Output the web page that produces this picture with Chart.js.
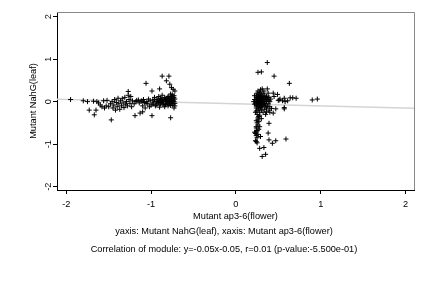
<!DOCTYPE html>
<html>
<head>
<meta charset="utf-8">
<script src="https://cdn.jsdelivr.net/npm/chart.js@4"></script>
<style>
  html, body { margin: 0; padding: 0; background: #fff; }
  canvas { display: block; }
</style>
</head>
<body>
<canvas id="chart" width="432" height="288"></canvas>
<script>
// ticks of both axes
const xTicks = [-2, -1, 0, 1, 2];
const yTicks = [-2, -1, 0, 1, 2];

// titles
const xTitle = 'Mutant ap3-6(flower)';
const yTitle = 'Mutant NahG(leaf)';
const subTitle = 'yaxis: Mutant NahG(leaf), xaxis: Mutant ap3-6(flower)';
const corrTitle = 'Correlation of module: y=-0.05x-0.05, r=0.01 (p-value:-5.500e-01)';

// genes with low flower value (x, y)
const leftPoints = [
  [-1.95,0.05],[-1.80,0.02],[-1.75,0.0],[-1.73,-0.2],[-1.68,0.01],[-1.67,-0.31],[-1.65,-0.2],[-1.64,0.0],
  [-1.62,-0.03],[-1.6,-0.08],[-1.58,-0.12],[-1.56,0.02],[-1.55,-0.15],[-1.53,-0.1],[-1.52,0.03],[-1.5,-0.12],
  [-1.48,-0.05],[-1.47,-0.43],[-1.46,0.0],[-1.45,-0.15],[-1.44,-0.08],[-1.43,0.05],[-1.42,-0.2],[-1.41,-0.02],
  [-1.4,-0.12],[-1.39,0.08],[-1.38,-0.05],[-1.37,-0.18],[-1.36,0.02],[-1.35,-0.1],[-1.34,0.07],[-1.33,-0.03],
  [-1.32,-0.14],[-1.31,0.1],[-1.3,-0.06],[-1.29,0.0],[-1.28,-0.1],[-1.27,0.24],[-1.27,0.15],[-1.26,0.05],
  [-1.25,-0.04],[-1.24,0.12],[-1.23,-0.12],[-1.22,0.02],[-1.2,-0.05],[-1.19,-0.33],[-1.18,0.0],[-1.17,0.03],
  [-1.15,0.04],[-1.14,-0.03],[-1.13,-0.27],[-1.12,0.01],[-1.11,0.02],[-1.1,-0.24],[-1.1,-0.1],[-1.09,0.05],
  [-1.08,-0.02],[-1.07,-0.15],[-1.06,0.43],[-1.06,-0.04],[-1.05,0.0],[-1.04,-0.05],[-1.03,0.06],[-1.02,-0.12],
  [-1.01,0.02],[-1.0,-0.08],[-0.99,-0.33],[-0.99,0.25],[-0.98,0.04],[-0.98,-0.06],[-0.97,-0.03],[-0.96,0.1],
  [-0.96,0.05],[-0.95,-0.1],[-0.94,0.0],[-0.94,-0.08],[-0.93,0.06],[-0.92,-0.05],[-0.92,0.04],[-0.91,0.12],
  [-0.91,-0.02],[-0.9,-0.13],[-0.9,0.02],[-0.9,0.3],[-0.89,0.08],[-0.89,-0.06],[-0.88,-0.02],[-0.88,0.06],
  [-0.87,0.15],[-0.87,0.6],[-0.87,0.0],[-0.86,-0.08],[-0.86,0.03],[-0.85,0.05],[-0.85,-0.04],[-0.84,0.1],
  [-0.84,-0.12],[-0.83,0.0],[-0.83,0.05],[-0.83,-0.07],[-0.82,0.49],[-0.82,0.07],[-0.82,0.0],[-0.81,-0.05],
  [-0.81,0.09],[-0.8,0.12],[-0.8,-0.1],[-0.8,0.02],[-0.79,0.6],[-0.79,0.03],[-0.79,-0.06],[-0.79,0.11],
  [-0.78,0.41],[-0.78,0.08],[-0.78,-0.03],[-0.78,0.0],[-0.77,0.18],[-0.77,-0.38],[-0.77,-0.09],[-0.77,0.06],
  [-0.76,0.33],[-0.76,0.05],[-0.76,0.12],[-0.76,-0.01],[-0.75,-0.08],[-0.75,0.04],[-0.75,0.16],[-0.74,0.29],
  [-0.74,0.1],[-0.74,-0.05],[-0.74,0.02],[-0.73,0.0],[-0.73,-0.15],[-0.73,0.09],[-0.73,0.14],[-0.72,0.06],
  [-0.72,0.25],[-0.72,-0.04],[-0.72,-0.1]
];

// genes with high flower value (x, y)
const rightPoints = [
  [0.24,0.0],[0.24,0.05],[0.24,-0.05],[0.24,0.1],[0.24,-0.1],[0.24,0.15],[0.24,-0.15],[0.24,-0.22],
  [0.25,0.2],[0.25,0.02],[0.25,-0.02],[0.25,0.08],[0.25,-0.08],[0.25,-0.3],[0.26,0.12],[0.26,-0.12],
  [0.26,0.04],[0.26,-0.04],[0.26,0.25],[0.26,-0.2],[0.27,0.0],[0.27,0.07],[0.27,-0.07],[0.27,0.17],
  [0.27,-0.17],[0.27,-0.35],[0.28,0.02],[0.28,-0.02],[0.28,0.1],[0.28,-0.1],[0.28,0.22],[0.28,-0.25],
  [0.29,0.05],[0.29,-0.05],[0.29,0.14],[0.29,-0.14],[0.29,0.28],[0.3,0.0],[0.3,0.08],[0.3,-0.08],
  [0.3,0.18],[0.3,-0.2],[0.3,-0.4],[0.31,0.03],[0.31,-0.03],[0.31,0.12],[0.31,-0.12],[0.31,0.3],
  [0.32,0.06],[0.32,-0.06],[0.32,0.2],[0.32,-0.25],[0.33,0.0],[0.33,0.1],[0.33,-0.1],[0.33,0.25],
  [0.34,0.04],[0.34,-0.04],[0.34,0.15],[0.34,-0.18],[0.35,0.08],[0.35,-0.08],[0.35,-0.3],[0.36,0.0],
  [0.36,0.12],[0.36,-0.15],[0.37,0.3],[0.37,0.05],[0.38,-0.05],[0.38,0.2],[0.39,-0.2],[0.39,0.1],
  [0.4,0.0],[0.4,-0.12],[0.37,0.92],[0.26,0.69],[0.3,0.7],[0.45,0.6],[0.63,0.43],[0.44,0.2],
  [0.49,0.17],[0.45,0.12],[0.64,0.09],[0.71,0.08],[0.67,0.09],[0.55,0.02],[0.58,0.0],[0.61,0.02],
  [0.5,0.03],[0.52,0.06],[0.57,0.08],[0.51,0.04],[0.57,-0.14],[0.9,0.04],[0.96,0.06],[0.42,-0.16],
  [0.47,-0.17],[0.57,-0.17],[0.36,-0.24],[0.4,-0.25],[0.44,-0.27],[0.26,-0.43],[0.27,-0.47],[0.39,-0.51],
  [0.24,-0.59],[0.28,-0.59],[0.22,-0.72],[0.26,-0.77],[0.38,-0.74],[0.29,-0.82],[0.23,-0.92],[0.39,-0.9],
  [0.43,-0.98],[0.47,-0.92],[0.59,-0.88],[0.28,-1.1],[0.33,-1.08],[0.31,-1.29],[0.35,-1.24],[0.24,-0.45],
  [0.25,-0.5],[0.26,-0.55],[0.24,-0.62],[0.25,-0.68],[0.27,-0.65],[0.23,-0.75],[0.24,-0.8],[0.25,-0.85],
  [0.24,-0.94],[0.25,-0.97],[0.24,-0.71],[0.26,-0.38],[0.28,-0.32],[0.23,-0.25],
  [0.22,0.05],[0.22,-0.06],[0.22,0.14],[0.21,0.0],[0.38,0.1],[0.39,0.03],[0.37,-0.11],[0.41,0.06]
];

// fitted line y=-0.05x-0.05 across the plot
const fitX = [-2.11, 2.1];
const fitY = [0.056, -0.155];

const allPoints = leftPoints.concat(rightPoints).map(p => ({ x: p[0], y: p[1] }));
const fitPoints = fitX.map((x, i) => ({ x: x, y: fitY[i] }));

const FONT = '9.2px "Liberation Sans", Arial, sans-serif';

// draws box edges, tick labels and titles in R style
const textPlugin = {
  id: 'rtext',
  afterDraw(chart) {
    const ctx = chart.ctx;
    const xs = chart.scales.x;
    const ys = chart.scales.y;
    const area = chart.chartArea;
    ctx.save();
    // top and right edge of the box
    ctx.strokeStyle = '#888';
    ctx.lineWidth = 1;
    ctx.beginPath();
    ctx.moveTo(area.left, area.top + 0.5);
    ctx.lineTo(area.right + 0.5, area.top + 0.5);
    ctx.lineTo(area.right + 0.5, area.bottom);
    ctx.stroke();

    ctx.fillStyle = '#000';
    ctx.font = FONT;
    ctx.textAlign = 'center';
    ctx.textBaseline = 'middle';
    xTicks.forEach(v => {
      ctx.fillText(String(v), xs.getPixelForValue(v), 204);
    });
    yTicks.forEach(v => {
      ctx.save();
      ctx.translate(48, ys.getPixelForValue(v));
      ctx.rotate(-Math.PI / 2);
      ctx.fillText(String(v), 0, 0);
      ctx.restore();
    });
    ctx.fillText(xTitle, (area.left + area.right) / 2, 216);
    ctx.save();
    ctx.translate(33, (area.top + area.bottom) / 2);
    ctx.rotate(-Math.PI / 2);
    ctx.fillText(yTitle, 0, 0);
    ctx.restore();
    ctx.fillText(subTitle, 224, 231);
    ctx.fillText(corrTitle, 224, 249);
    ctx.restore();
  }
};

new Chart(document.getElementById('chart'), {
  type: 'scatter',
  data: {
    datasets: [{
      label: 'genes',
      data: allPoints,
      pointStyle: 'cross',
      pointRadius: 2.5,
      pointBorderWidth: 1,
      borderColor: '#000',
      backgroundColor: '#000',
      order: 1
    }, {
      type: 'line',
      label: 'fit',
      data: fitPoints,
      borderColor: '#d4d4d4',
      borderWidth: 1.5,
      pointRadius: 0,
      fill: false,
      order: 2
    }]
  },
  options: {
    responsive: false,
    animation: false,
    devicePixelRatio: 1,
    layout: { padding: { top: 12, right: 18, left: 0, bottom: 0 } },
    plugins: { legend: { display: false }, tooltip: { enabled: false } },
    scales: {
      x: {
        type: 'linear',
        min: -2.11,
        max: 2.1,
        afterBuildTicks(s) { s.ticks = xTicks.map(v => ({ value: v })); },
        afterFit(s) { s.height = 98; },
        ticks: { display: false },
        grid: { drawOnChartArea: false, drawTicks: true, tickLength: 4, color: '#000' },
        border: { display: true, color: '#000', width: 1 }
      },
      y: {
        type: 'linear',
        min: -2.08,
        max: 2.11,
        afterBuildTicks(s) { s.ticks = yTicks.map(v => ({ value: v })); },
        afterFit(s) { s.width = 57; },
        ticks: { display: false },
        grid: { drawOnChartArea: false, drawTicks: true, tickLength: 4, color: '#000' },
        border: { display: true, color: '#000', width: 1 }
      }
    }
  },
  plugins: [textPlugin]
});
</script>
</body>
</html>
